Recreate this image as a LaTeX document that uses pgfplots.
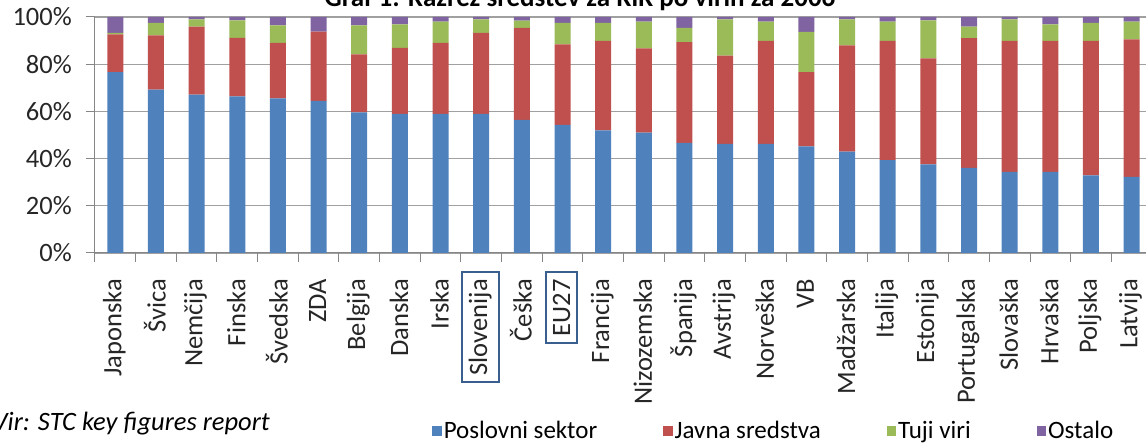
\documentclass[border=0pt]{standalone}
\usepackage{pgfplots}
\pgfplotsset{compat=1.18}
\usepackage{pgfplotstable}
\usepackage{fontspec}
\usepackage{calc}
\setmainfont{Carlito}

\definecolor{cBlue}{HTML}{4F81BD}
\definecolor{cRed}{HTML}{C0504D}
\definecolor{cGreen}{HTML}{9BBB59}
\definecolor{cPurple}{HTML}{8064A2}
\definecolor{boxblue}{HTML}{3A5F8F}
\definecolor{gridgray}{HTML}{A0A0A0}
\definecolor{axisgray}{HTML}{868686}

% framed tick label; the frame does not change the label's width
\newcommand\boxlab[1]{\makebox[\widthof{#1}]{\setlength\fboxrule{2pt}\setlength\fboxsep{6pt}\fcolorbox{boxblue}{white}{#1}}}

% shares in %, one row per country
\pgfplotstableread{
x  biz   gov   abroad other
0  76.6  16.0  0.7  6.7
1  69.2  23.0  5.3  2.5
2  67.1  28.8  3.1  1.0
3  66.4  24.8  7.4  1.4
4  65.5  23.5  7.4  3.6
5  64.5  29.3  0.0  6.2
6  59.6  24.6  12.2 3.6
7  58.9  28.0  10.0 3.1
8  58.9  30.1  9.0  2.0
9  58.9  34.4  5.7  1.0
10 56.4  39.0  3.1  1.5
11 54.3  34.1  9.1  2.5
12 52.0  37.9  7.6  2.5
13 51.0  35.7  11.3 2.0
14 46.7  42.7  6.0  4.6
15 46.2  37.4  15.4 1.0
16 46.2  43.7  8.1  2.0
17 45.2  31.4  17.1 6.3
18 42.9  45.1  11.0 1.0
19 39.3  50.6  8.1  2.0
20 37.6  44.9  16.1 1.4
21 36.1  54.9  4.9  4.1
22 34.4  55.5  9.1  1.0
23 34.4  55.5  7.0  3.1
24 32.9  57.0  7.6  2.5
25 32.3  58.2  7.5  2.0
}\data

\begin{document}
\begin{tikzpicture}[x=1pt,y=1pt]
\begin{axis}[
    at={(95pt,190pt)}, anchor=south west,
    scale only axis, width=1057pt, height=236pt,
    ybar stacked, bar width=16pt,
    xmin=-0.5, xmax=25.5, ymin=0, ymax=100,
    xtick={-0.5,0.5,...,25.5}, x tick label as interval,
    xticklabels={Japonska,Švica,Nemčija,Finska,Švedska,ZDA,Belgija,Danska,Irska,
      {\boxlab{Slovenija}},Češka,{\boxlab{EU27}},Francija,Nizozemska,Španija,Avstrija,
      Norveška,VB,Madžarska,Italija,Estonija,Portugalska,Slovaška,Hrvaška,Poljska,Latvija},
    ytick={0,20,...,100}, yticklabels={0\%,20\%,40\%,60\%,80\%,100\%},
    axis x line*=bottom, axis y line*=left,
    axis line style={-, draw=axisgray, line width=1pt},
    ymajorgrids, grid style={gridgray, line width=1.2pt},
    tick align=outside, major tick length=9pt,
    tick style={axisgray, line width=1pt},
    tick label style={font=\fontsize{26.5}{30}\selectfont, text=black!85},
    xticklabel style={rotate=90, anchor=east, inner sep=0pt, xshift=-17pt, yshift=1pt},
    yticklabel style={inner sep=0pt, xshift=-14pt},
    legend columns=4,
    legend style={draw=none, fill=none, inner sep=0pt,
      at={(axis description cs:0.319,-0.754)}, anchor=west,
      font=\fontsize{25}{28}\selectfont,
      nodes={inner sep=2pt},
      /tikz/every even column/.append style={column sep=64pt}},
    legend image code/.code={\fill[#1] (0pt,-4.7pt) rectangle (9.4pt,4.7pt);},
]
\addplot[fill=cBlue, draw=none] table[x=x, y=biz] {\data};
\addlegendentry{Poslovni sektor}
\addplot[fill=cRed, draw=none] table[x=x, y=gov] {\data};
\addlegendentry{Javna sredstva}
\addplot[fill=cGreen, draw=none] table[x=x, y=abroad] {\data};
\addlegendentry{Tuji viri}
\addplot[fill=cPurple, draw=none] table[x=x, y=other] {\data};
\addlegendentry{Ostalo}
\end{axis}
\node[font=\bfseries\fontsize{27}{30}\selectfont, anchor=base] at (580,436)
  {Graf 1: Razrez sredstev za RiR po virih za 2006};
\node[font=\itshape\fontsize{26.5}{30}\selectfont, anchor=base east, inner sep=0pt] at (270,12)
  {Vir: STC key figures report};
\pgfresetboundingbox
\useasboundingbox (0,0) rectangle (1146,443);
\end{tikzpicture}
\end{document}
